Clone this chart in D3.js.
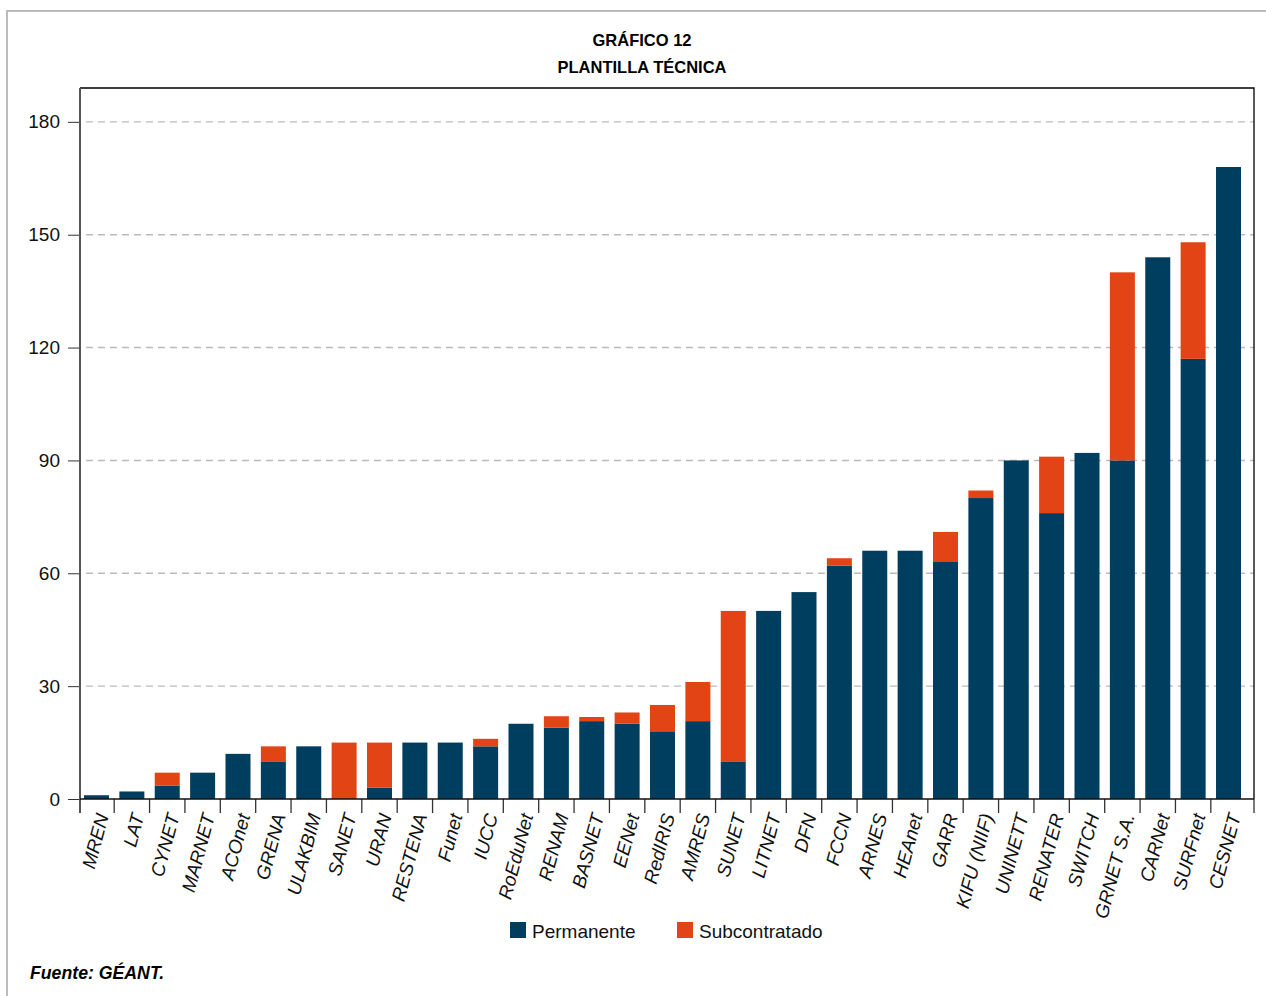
<!DOCTYPE html>
<meta charset="utf-8">
<head>
    <title>Plantilla técnica</title>
    <script src="https://d3js.org/d3.v7.min.js"></script>
    <style>
        body { margin: 0; background: #fff; }
        text { font-family: "Liberation Sans", Arial, sans-serif; }
    </style>
</head>
<body>
<svg width="1266" height="996"></svg>
<script>
// data
var redes = ["MREN", "LAT", "CYNET", "MARNET", "ACOnet", "GRENA", "ULAKBIM", "SANET", "URAN", "RESTENA",
    "Funet", "IUCC", "RoEduNet", "RENAM", "BASNET", "EENet", "RedIRIS", "AMRES", "SUNET", "LITNET",
    "DFN", "FCCN", "ARNES", "HEAnet", "GARR", "KIFU (NIIF)", "UNINETT", "RENATER", "SWITCH", "GRNET S.A.",
    "CARNet", "SURFnet", "CESNET"];
var permanente = [1, 2, 3.5, 7, 12, 10, 14, 0, 3, 15,
    15, 14, 20, 19, 20.7, 20, 18, 20.7, 10, 50,
    55, 62, 66, 66, 63, 80, 90, 76, 92, 90,
    144, 117, 168];
var subcontratado = [0, 0, 3.5, 0, 0, 4, 0, 15, 12, 0,
    0, 2, 0, 3, 1.1, 3, 7, 10.4, 40, 0,
    0, 2, 0, 0, 8, 2, 0, 15, 0, 50,
    0, 31, 0];
var series = ["Permanente", "Subcontratado"];
var yTicks = [0, 30, 60, 90, 120, 150, 180];

var colores = ["#003e5f", "#e24415"];

var svg = d3.select("svg"),
    margin = {top: 88, right: 12, bottom: 197, left: 80},
    width = +svg.attr("width") - margin.left - margin.right,
    height = +svg.attr("height") - margin.top - margin.bottom;

// outer frame
svg.append("path")
    .attr("d", "M7,996V11H1266")
    .attr("fill", "none")
    .attr("stroke", "#bbb")
    .attr("stroke-width", 2);

svg.append("text")
    .attr("x", 642).attr("y", 46)
    .attr("text-anchor", "middle")
    .attr("font-size", 16.5).attr("font-weight", "bold")
    .text("GRÁFICO 12");
svg.append("text")
    .attr("x", 642).attr("y", 73)
    .attr("text-anchor", "middle")
    .attr("font-size", 16.5).attr("font-weight", "bold")
    .text("PLANTILLA TÉCNICA");

var g = svg.append("g").attr("transform", "translate(" + margin.left + "," + margin.top + ")");

var x = d3.scaleBand()
    .domain(redes)
    .range([-1.2, 1166.2])
    .paddingInner(0.2933)
    .paddingOuter(0.1467);

var y = d3.scaleLinear()
    .domain([0, 189])
    .range([height, 0]);

var data = redes.map(function(d, i) {
    return {red: d, Permanente: permanente[i], Subcontratado: subcontratado[i]};
});
var stacked = d3.stack().keys(series)(data);

// grid
g.append("g")
    .selectAll("line")
    .data(yTicks.filter(function(d) { return d > 0; }))
    .enter().append("line")
    .attr("x1", 6).attr("x2", width)
    .attr("y1", function(d) { return y(d); })
    .attr("y2", function(d) { return y(d); })
    .attr("stroke", "#bbb")
    .attr("stroke-width", 1.4)
    .attr("stroke-dasharray", "7,5");

g.append("g")
    .selectAll("g")
    .data(stacked)
    .enter().append("g")
    .attr("fill", function(d, i) { return colores[i]; })
    .selectAll("rect")
    .data(function(d) { return d; })
    .enter().append("rect")
    .attr("x", function(d) { return x(d.data.red); })
    .attr("y", function(d) { return y(d[1]); })
    .attr("height", function(d) { return y(d[0]) - y(d[1]); })
    .attr("width", x.bandwidth());

// plot frame (top + right)
g.append("path")
    .attr("d", "M0,0H" + width + "V" + height)
    .attr("fill", "none")
    .attr("stroke", "#000")
    .attr("stroke-width", 1.3);

// y axis
var yAxis = g.append("g")
    .call(d3.axisLeft(y).tickValues(yTicks).tickSize(12).tickPadding(8).tickSizeOuter(0));
yAxis.select(".domain").remove();
yAxis.selectAll(".tick line").attr("stroke", "#333");
yAxis.selectAll("text").attr("font-size", 19).attr("fill", "#111")
    .style("font-family", "'Liberation Sans', Arial, sans-serif");
g.append("line")
    .attr("x1", 0).attr("x2", 0)
    .attr("y1", 0).attr("y2", height + 14)
    .attr("stroke", "#555").attr("stroke-width", 2);

// x axis: ticks at band edges
var edges = redes.map(function(d) { return x(d) - x.step() * x.paddingInner() / 2; });
edges.push(width);
g.append("g")
    .selectAll("line")
    .data(edges.slice(1))
    .enter().append("line")
    .attr("x1", function(d) { return d; }).attr("x2", function(d) { return d; })
    .attr("y1", height).attr("y2", height + 14)
    .attr("stroke", "#333").attr("stroke-width", 1.3);
g.append("line")
    .attr("x1", 0).attr("x2", width)
    .attr("y1", height).attr("y2", height)
    .attr("stroke", "#111").attr("stroke-width", 1.5);

g.append("g")
    .selectAll("text")
    .data(redes)
    .enter().append("text")
    .attr("transform", function(d) {
        return "translate(" + (x(d) + x.bandwidth() / 2 + 6) + "," + (height + 15) + ") rotate(-75)";
    })
    .attr("text-anchor", "end")
    .attr("dy", "0.35em")
    .attr("font-size", 19)
    .attr("font-style", "italic")
    .attr("fill", "#111")
    .text(function(d) { return d; });

// legend
var legend = svg.append("g")
    .selectAll("g")
    .data(series)
    .enter().append("g")
    .attr("transform", function(d, i) { return "translate(" + (510 + i * 167) + ",922)"; });
legend.append("rect")
    .attr("width", 16).attr("height", 16)
    .attr("fill", function(d, i) { return colores[i]; });
legend.append("text")
    .attr("x", 22).attr("y", 16)
    .attr("font-size", 19)
    .attr("fill", "#111")
    .text(function(d) { return d; });

svg.append("text")
    .attr("x", 30).attr("y", 979)
    .attr("font-size", 17.7)
    .attr("font-weight", "bold")
    .attr("font-style", "italic")
    .text("Fuente: GÉANT.");
</script>
</body>
